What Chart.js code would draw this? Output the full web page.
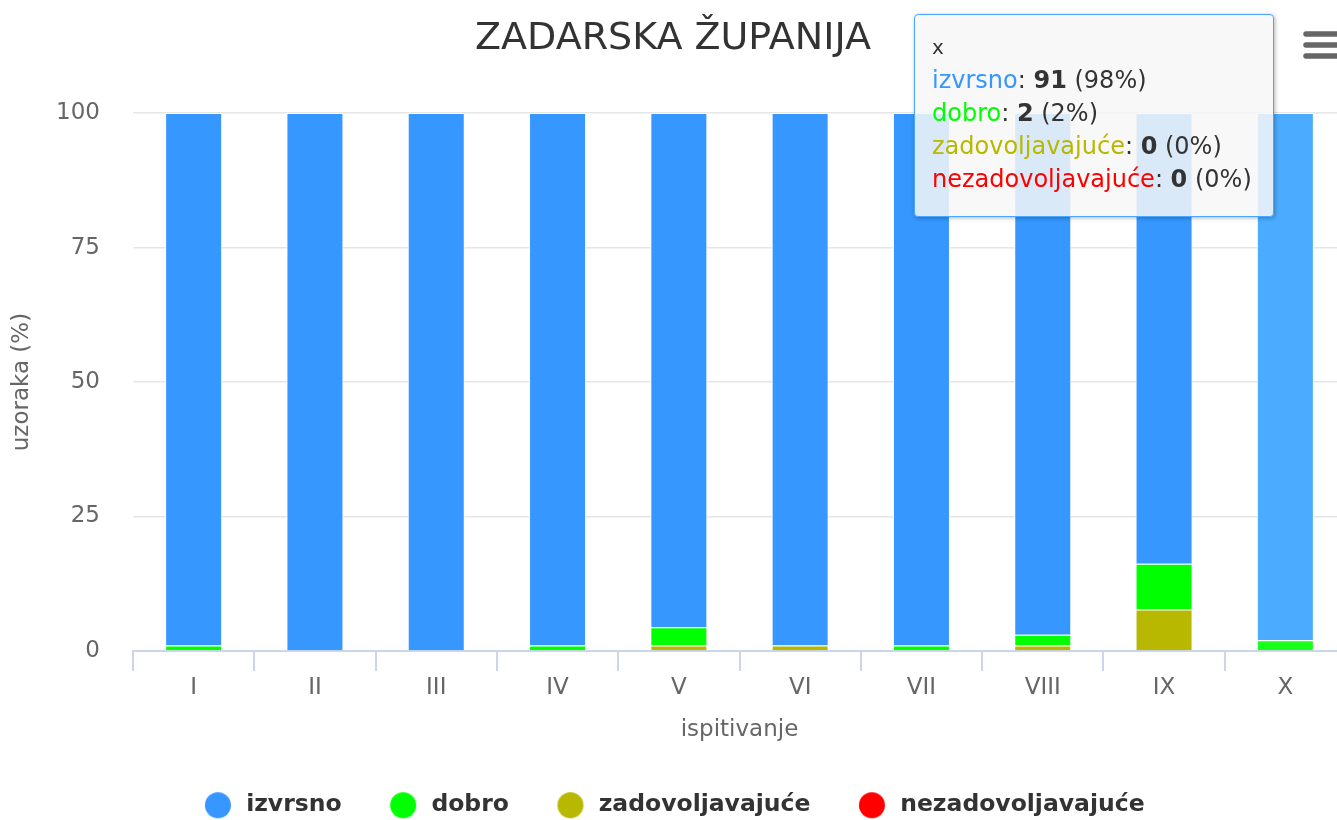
<!DOCTYPE html>
<html>
<head>
<meta charset="utf-8">
<script src="https://cdn.jsdelivr.net/npm/chart.js@4"></script>
<style>
  html, body { margin: 0; padding: 0; background: #fff; overflow: hidden; }
  #wrap { position: relative; width: 1350px; height: 827px; }
  #tip {
    position: absolute; left: 914px; top: 14px; width: 324px;
    padding: 16px 17px 20px 17px; box-sizing: content-box;
    background: rgba(247, 247, 247, 0.85);
    border: 1.5px solid #4aa6ff; border-radius: 4px;
    box-shadow: 1px 1px 4px rgba(0, 0, 0, 0.3);
    font-family: 'DejaVu Sans', sans-serif; font-size: 24px; line-height: 33px;
    color: #333; white-space: nowrap; display: none;
  }
  #tip .hdr { font-size: 20px; }
</style>
</head>
<body>
<div id="wrap">
  <canvas id="chart" width="1350" height="827"></canvas>
  <div id="tip"></div>
</div>
<script>
const categories = ['I', 'II', 'III', 'IV', 'V', 'VI', 'VII', 'VIII', 'IX', 'X'];
const izvrsno = [99, 100, 100, 99, 95.6, 99, 99, 97, 83.8, 98];
const dobro = [1, 0, 0, 1, 3.4, 0, 1, 2, 8.5, 2];
const zadovoljavajuce = [0, 0, 0, 0, 1, 1, 0, 1, 7.7, 0];
const nezadovoljavajuce = [0, 0, 0, 0, 0, 0, 0, 0, 0, 0];
const yTicks = [0, 25, 50, 75, 100];

const seriesNames = ['izvrsno', 'dobro', 'zadovoljavajuće', 'nezadovoljavajuće'];
const seriesColors = ['#3597ff', '#00ff00', '#b8b800', '#ff0000'];
const hoverColors = ['#4aabff', '#1aff1a', '#c6c61a', '#ff1a1a'];

// tooltip shown for the last column
const tooltipHeader = 'x';
const tooltipCounts = [91, 2, 0, 0];
const activeIndex = 9;

const FONT = "'DejaVu Sans', sans-serif";
const seriesData = [izvrsno, dobro, zadovoljavajuce, nezadovoljavajuce];

// legend markers
const markers = seriesColors.map(c => {
  const cv = document.createElement('canvas');
  cv.width = 28; cv.height = 28;
  const g = cv.getContext('2d');
  g.fillStyle = c;
  g.beginPath(); g.arc(14, 14, 13, 0, Math.PI * 2); g.fill();
  return cv;
});

// highcharts stacks the first series on top, so feed them bottom-up
const order = [3, 2, 1, 0];
const datasets = order.map(i => ({
  label: seriesNames[i],
  data: seriesData[i],
  backgroundColor: ctx => ctx.dataIndex === activeIndex ? hoverColors[i] : seriesColors[i],
  borderColor: '#ffffff',
  borderWidth: 1
}));

function renderTip(context) {
  const tooltip = context.tooltip;
  const el = document.getElementById('tip');
  if (tooltip.opacity === 0 || !tooltip.dataPoints || !tooltip.dataPoints.length) {
    el.style.display = 'none';
    return;
  }
  const total = tooltipCounts.reduce((a, b) => a + b, 0);
  const points = tooltip.dataPoints.slice().sort((a, b) => b.datasetIndex - a.datasetIndex);
  let html = '<div class="hdr">' + tooltipHeader + '</div>';
  points.forEach(p => {
    const i = order[p.datasetIndex];
    const n = tooltipCounts[i];
    html += '<div><span style="color:' + seriesColors[i] + '">' + seriesNames[i] + '</span>: <b>' + n +
      '</b> (' + Math.round(n / total * 100) + '%)</div>';
  });
  el.innerHTML = html;
  el.style.display = 'block';
}

const menuIcon = {
  id: 'menuIcon',
  afterDraw(chart) {
    const ctx = chart.ctx;
    ctx.save();
    ctx.strokeStyle = '#666666';
    ctx.lineWidth = 5.5;
    ctx.lineCap = 'round';
    [34, 45, 56].forEach(y => {
      ctx.beginPath(); ctx.moveTo(1306, y); ctx.lineTo(1350, y); ctx.stroke();
    });
    ctx.restore();
  }
};

const chart = new Chart(document.getElementById('chart').getContext('2d'), {
  type: 'bar',
  data: { labels: categories, datasets: datasets },
  options: {
    responsive: false,
    animation: false,
    events: [],
    layout: { padding: { left: 0, right: 4, top: 0, bottom: 0 } },
    datasets: { bar: { categoryPercentage: 1, barPercentage: 0.47 } },
    interaction: { mode: 'index', intersect: false },
    scales: {
      x: {
        stacked: true,
        afterFit: s => { s.height = 97.5; },
        grid: { display: true, drawOnChartArea: false, drawTicks: true, tickLength: 20, color: '#ccd6eb', lineWidth: 2, offset: true },
        border: { display: true, color: '#ccd6eb', width: 2 },
        ticks: { color: '#666666', padding: 3, font: { family: FONT, size: 23 } },
        title: { display: true, text: 'ispitivanje', color: '#666666', font: { family: FONT, size: 23 }, padding: { top: 0, bottom: 4.5 } }
      },
      y: {
        stacked: true,
        min: 0,
        max: 100,
        afterFit: s => { s.width = 133; },
        afterBuildTicks: s => { s.ticks = yTicks.map(v => ({ value: v })); },
        grid: { color: '#e6e6e6', lineWidth: 1.5, drawTicks: false },
        border: { display: false },
        ticks: { color: '#666666', padding: 33, font: { family: FONT, size: 23 } },
        title: { display: true, text: 'uzoraka (%)', color: '#666666', font: { family: FONT, size: 23 }, padding: { top: 8, bottom: 0 } }
      }
    },
    plugins: {
      title: {
        display: true,
        text: 'ZADARSKA ŽUPANIJA',
        color: '#333333',
        font: { family: FONT, size: 38, weight: 'normal' },
        padding: { top: 16.5, bottom: 51 }
      },
      legend: {
        position: 'bottom',
        reverse: true,
        labels: {
          usePointStyle: true,
          pointStyleWidth: 33,
          color: '#333333',
          padding: 45,
          font: { family: FONT, size: 23.5, weight: 'bold' },
          generateLabels: c => Chart.defaults.plugins.legend.labels.generateLabels(c).map(item => {
            item.pointStyle = markers[order[item.datasetIndex]];
            return item;
          })
        }
      },
      tooltip: { enabled: false, external: renderTip }
    }
  },
  plugins: [menuIcon]
});

const active = datasets.map((d, i) => ({ datasetIndex: i, index: activeIndex }));
chart.tooltip.setActiveElements(active, { x: 0, y: 0 });
</script>
</body>
</html>
